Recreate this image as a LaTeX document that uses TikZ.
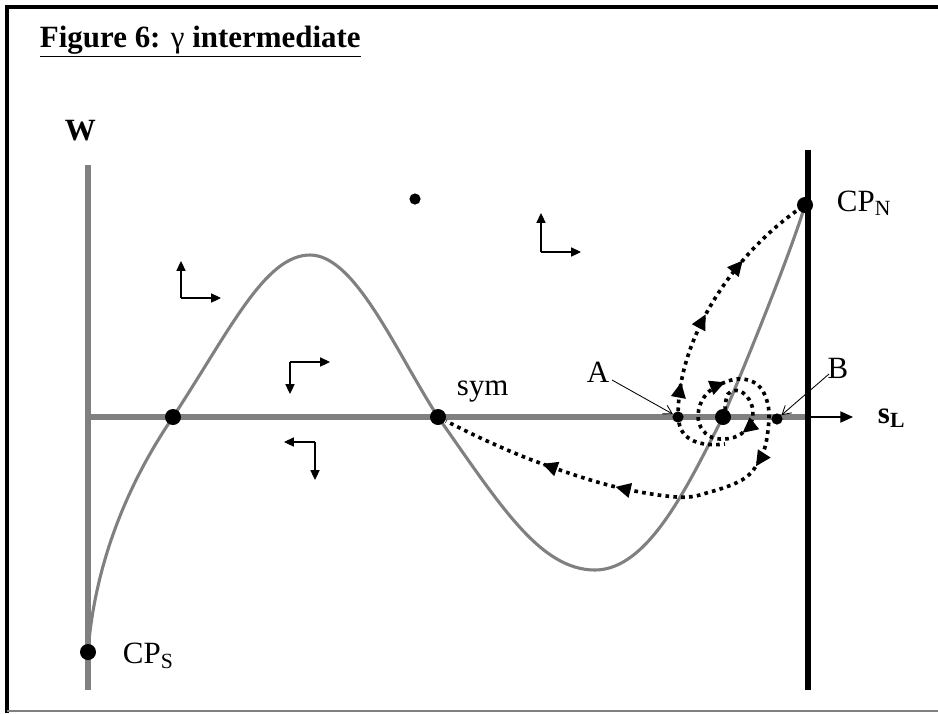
\documentclass[tikz,border=0pt]{standalone}
\usepackage{fontspec}
\setmainfont{Liberation Serif}
\usetikzlibrary{arrows.meta,decorations.markings,positioning}
\definecolor{axisgray}{RGB}{128,128,128}

\begin{document}
\begin{tikzpicture}[x=0.025cm,y=-0.025cm,
	font=\fontsize{22}{26}\selectfont,
	axis/.style={ draw=axisgray, line width=3.6pt },
	branch/.style={ draw=axisgray, line width=2.2pt },
	vertex/.style={ circle, fill, inner sep=0pt, minimum size=0.4cm },
	vertexs/.style={ circle, fill, inner sep=0pt, minimum size=0.28cm },
	traj/.style={ line width=2.6pt, dash pattern=on 2.6pt off 3pt },
	flowat/.style={ postaction={decorate, decoration={markings,
		mark=at position #1 with {\arrow{Triangle[length=11pt,width=10pt]}}}} },
	dirarrow/.style={ line width=0.8pt, -{Triangle[length=7pt,width=6.5pt]} },
	pointer/.style={ line width=0.6pt, -{Straight Barb[length=6pt,width=7pt]} }
]
\useasboundingbox (0,0) rectangle (938,713);

% frame
\draw[line width=2.2pt] (7,713) -- (7,7) -- (938,7);
\draw[axisgray, line width=1pt] (7,711) -- (938,711);
\node[anchor=base west, font=\bfseries\fontsize{22}{26}\selectfont] (title) at (35,47) {\underline{Figure 6: {\mdseries γ} intermediate}};

% axes
\draw[axis] (88,165) -- (88,690);
\draw[axis] (88,417) -- (808,417);
\draw[line width=4.3pt] (808,150) -- (808,690);
\draw[line width=0.8pt, -{Triangle[length=9pt,width=8pt]}] (808,417) -- (853,417);
\node[anchor=base west, font=\bfseries\fontsize{22}{26}\selectfont] (w) at (60,140) {W};
\node[anchor=west, font=\bfseries\fontsize{22}{26}\selectfont] (sl) at (873,418) {s\textsubscript{L}};

% isocline
\draw[branch] (88,652)
	.. controls (95,560) and (130,480) .. (173,417)
	.. controls (230,330) and (265,255) .. (310,255)
	.. controls (355,255) and (395,350) .. (438,417)
	.. controls (500,505) and (540,570) .. (595,570)
	.. controls (650,570) and (690,480) .. (723,417)
	.. controls (745,365) and (790,255) .. (805,205);

% rest points
\node at (88,652) (cps) [vertex] {};
\node at (173,417) (e1) [vertex] {};
\node at (438,417) (sym) [vertex] {};
\node at (723,417) (foc) [vertex] {};
\node at (805,205) (cpn) [vertex] {};
\node at (678,417) (a) [vertexs] {};
\node at (777,419) (b) [vertexs] {};
\node at (415,199) (lone) [vertexs] {};

\node[anchor=west] at (118,656) {CP\textsubscript{S}};
\node[anchor=west] at (832,203) {CP\textsubscript{N}};
\node[anchor=west] (symlab) at (452,392) {sym};
\node (alab) at (598,372) {A};
\node (blab) at (838,368) {B};
\draw[pointer] (612,380) -- (a);
\draw[pointer] (829,374) -- (b);

% direction fields
\coordinate (d1) at (181,298);
\draw[dirarrow] (d1) -- ++(0,-37);
\draw[dirarrow] (d1) -- ++(40,0);
\coordinate (d2) at (290,362);
\draw[dirarrow] (d2) -- ++(40,0);
\draw[dirarrow] (d2) -- ++(0,32);
\coordinate (d3) at (315,442);
\draw[dirarrow] (d3) -- ++(-31,0);
\draw[dirarrow] (d3) -- ++(0,38);
\coordinate (d4) at (541,252);
\draw[dirarrow] (d4) -- ++(0,-39);
\draw[dirarrow] (d4) -- ++(40,0);

% trajectories
\draw[traj, flowat=0.12, flowat=0.42, flowat=0.69] (a) .. controls (680,330) and (740,250) .. (cpn);
\draw[traj] (a) .. controls (682,440) and (700,447) .. (725,444);
\draw[traj, flowat=0.125, flowat=0.29, flowat=0.48, flowat=0.715, flowat=0.835]
	plot[smooth, tension=0.6] coordinates {(725,410) (728,394) (740,391) (751,403) (752,420)
	(741,434) (725,439) (709,436) (699,423) (700,405) (712,389) (737,379) (758,385)
	(768,405) (768,430) (762,455) (745,478) (710,492) (677,497) (612,486) (540,463)
	(487,441) (446,421)};

\end{tikzpicture}
\end{document}
